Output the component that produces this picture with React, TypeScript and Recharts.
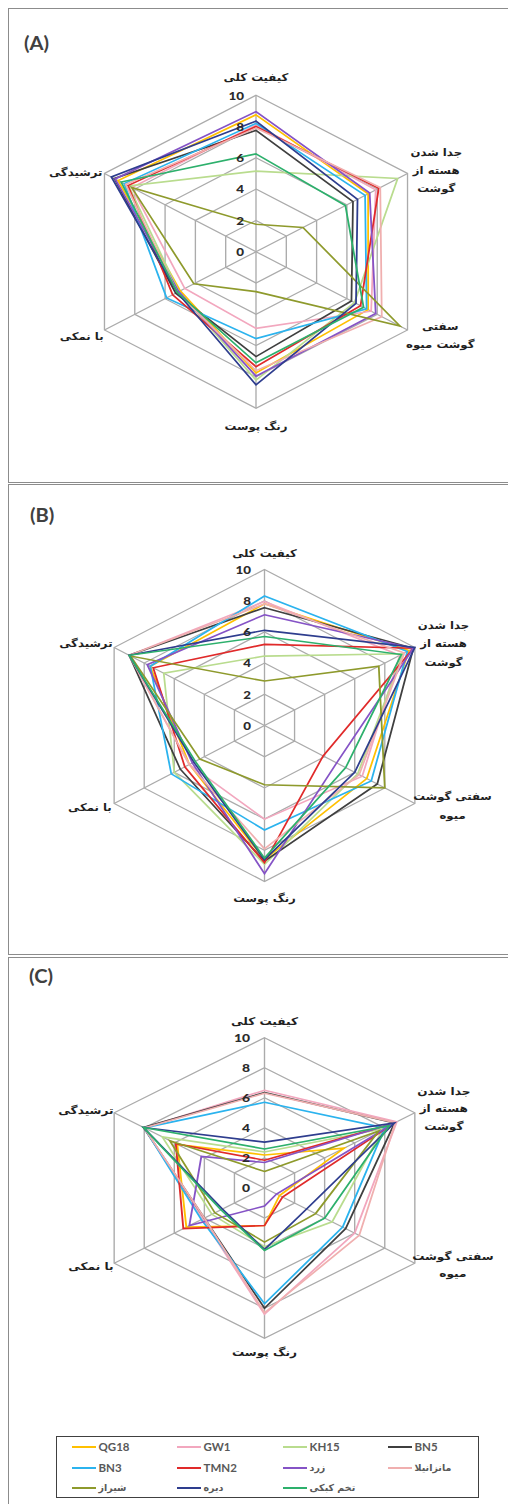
import React from 'react';
import { RadarChart, Radar, PolarGrid, PolarAngleAxis, PolarRadiusAxis } from 'recharts';

// Sensory traits, clockwise from the top spoke
const TRAITS = ['کیفیت  کلی', 'جدا شدن هسته از گوشت', 'سفتی گوشت میوه', 'رنگ پوست', 'با نمکی', 'ترشیدگی'];

// Line breaks used for the spoke captions
const TRAIT_LINES_A = [['کیفیت  کلی'], ['جدا شدن', 'هسته از', 'گوشت'], ['سفتی', 'گوشت میوه'], ['رنگ پوست'], ['با نمکی'], ['ترشیدگی']];
const TRAIT_LINES_BC = [['کیفیت  کلی'], ['جدا شدن', 'هسته از', 'گوشت'], ['سفتی گوشت', 'میوه'], ['رنگ پوست'], ['با نمکی'], ['ترشیدگی']];

const CULTIVARS = ['QG18', 'GW1', 'KH15', 'BN5', 'BN3', 'TMN2', 'زرد', 'مانزانیلا', 'شیراز', 'دیره', 'تخم کبکی'];
const COLORS = ['#FFC000', '#F2A7BE', '#B9DC8E', '#3F3F3F', '#2BB3EE', '#E02A2A', '#8553C6', '#F0AFAF', '#8E9A2C', '#2E3D8E', '#2DB06C'];

const RADIUS_TICKS = [0, 2, 4, 6, 8, 10];

// Scores per cultivar (same order as CULTIVARS), values per trait (same order as TRAITS)
const SCORES_A = [
  [8.75, 7.4, 7.4, 7.75, 5.0, 9.1],
  [8.1, 7.9, 7.6, 4.9, 4.7, 8.2],
  [5.15, 9.35, 6.5, 8.2, 5.1, 8.4],
  [7.75, 6.4, 6.3, 6.7, 5.3, 9.35],
  [8.2, 7.2, 7.3, 5.55, 5.9, 8.7],
  [8.0, 8.1, 6.9, 7.35, 5.5, 8.45],
  [8.95, 7.5, 7.9, 7.95, 5.1, 9.3],
  [7.9, 8.2, 8.3, 7.6, 5.2, 8.6],
  [1.75, 3.1, 9.5, 2.55, 4.1, 8.2],
  [8.35, 6.7, 6.6, 8.5, 5.2, 9.55],
  [6.25, 5.9, 7.1, 7.1, 5.2, 8.9],
];

const SCORES_B = [
  [7.8, 9.6, 6.8, 8.6, 5.0, 7.6],
  [7.95, 9.0, 6.5, 6.0, 5.0, 9.0],
  [4.45, 9.2, 6.2, 8.9, 6.0, 6.7],
  [7.55, 9.9, 7.5, 8.7, 5.6, 9.0],
  [8.3, 9.5, 7.1, 6.7, 6.2, 7.6],
  [5.2, 9.9, 3.9, 8.8, 5.3, 7.4],
  [7.1, 9.9, 4.8, 9.5, 4.8, 7.8],
  [7.8, 9.3, 6.3, 7.9, 5.0, 9.0],
  [2.85, 7.6, 8.0, 3.8, 4.3, 8.9],
  [6.1, 10.0, 6.0, 8.6, 4.7, 9.0],
  [5.7, 9.1, 5.4, 8.5, 4.6, 9.0],
];

const SCORES_C = [
  [2.2, 5.3, 1.0, 2.5, 5.2, 5.8],
  [6.5, 8.8, 6.0, 8.4, 4.1, 8.0],
  [2.4, 7.9, 4.5, 3.9, 3.5, 6.8],
  [6.35, 8.65, 5.4, 8.0, 4.0, 8.05],
  [5.7, 8.0, 5.2, 7.7, 4.2, 8.0],
  [1.85, 8.6, 1.2, 2.5, 5.4, 5.9],
  [1.7, 8.65, 0.8, 1.2, 5.0, 4.2],
  [6.3, 8.7, 6.3, 8.3, 4.0, 8.0],
  [1.1, 7.6, 3.4, 3.6, 3.3, 6.3],
  [3.05, 8.65, 2.8, 4.1, 2.8, 8.05],
  [2.6, 8.3, 4.0, 4.15, 2.9, 8.05],
];

const PERSIAN_FONT = '"DejaVu Sans", sans-serif';
const LATIN_FONT = 'Lato, "Open Sans", sans-serif';
const FRAME = '1.5px solid #8C8C8C';

type Layout = {
  letter: string;
  frameTop: number;
  frameHeight: number;
  frameBottom: boolean;
  letterX: number;
  letterY: number;
  chartTop: number;
  chartHeight: number;
  cx: number;
  cy: number;
  r: number;
  k: number;
  tickGap: number;
  lineGap: number;
  captionOffsets: [number, number][];
  captions: string[][];
  scores: number[][];
};

const buildRows = (scores: number[][]) =>
  TRAITS.map((trait, i) => {
    const row: Record<string, number | string> = { trait };
    CULTIVARS.forEach((_, j) => {
      row['s' + j] = scores[j][i];
    });
    return row;
  });

const makeAngleTick = (lay: Layout) => (props: any) => {
  const { x, y, index } = props;
  const lines = lay.captions[index] || [props.payload?.value];
  const [dx, dy] = lay.captionOffsets[index];
  const x0 = x + dx / lay.k;
  const yc = y + dy - ((lines.length - 1) * lay.lineGap) / 2;
  return (
    <text
      textAnchor="middle"
      fontFamily={PERSIAN_FONT}
      fontWeight="bold"
      fontSize={10.5}
      fill="#1F1F1F"
    >
      {lines.map((l: string, i: number) => (
        <tspan key={i} x={x0} y={yc + i * lay.lineGap} dy="0.35em">
          {l}
        </tspan>
      ))}
    </text>
  );
};

const makeRadiusTick = (lay: Layout) => (props: any) => {
  const { x, y, payload } = props;
  return (
    <text
      x={x - lay.tickGap / lay.k}
      y={y}
      dy="0.36em"
      textAnchor="end"
      fontFamily={LATIN_FONT}
      fontWeight="900"
      fontSize={12}
      fill="#2B2B2B"
    >
      {payload.value}
    </text>
  );
};

function RadarPanel({ lay }: { lay: Layout }) {
  const rows = buildRows(lay.scores);
  return (
    <>
      <div
        style={{
          position: 'absolute',
          left: 8,
          top: lay.frameTop,
          width: 540,
          height: lay.frameHeight,
          borderLeft: FRAME,
          borderTop: FRAME,
          borderBottom: lay.frameBottom ? FRAME : 'none',
          boxSizing: 'border-box',
        }}
      />
      <div
        style={{
          position: 'absolute',
          left: lay.letterX,
          top: lay.letterY,
          fontFamily: LATIN_FONT,
          fontWeight: 'bold',
          fontSize: 18,
          lineHeight: '20px',
          color: '#404040',
          transform: 'scaleX(1.12)',
          transformOrigin: 'left center',
        }}
      >
        {lay.letter}
      </div>
      <div
        style={{
          position: 'absolute',
          left: 0,
          top: lay.chartTop,
          width: 508,
          height: lay.chartHeight,
          transform: `scaleX(${lay.k})`,
          transformOrigin: `${lay.cx}px ${lay.cy}px`,
        }}
      >
        <RadarChart
          width={508}
          height={lay.chartHeight}
          cx={lay.cx}
          cy={lay.cy}
          outerRadius={lay.r}
          data={rows}
          margin={{ top: 0, right: 0, bottom: 0, left: 0 }}
        >
          <PolarGrid gridType="polygon" stroke="#ABABAB" strokeWidth={1.2} />
          <PolarAngleAxis
            dataKey="trait"
            tick={makeAngleTick(lay)}
            tickLine={false}
            axisLine={false}
          />
          <PolarRadiusAxis
            angle={90}
            domain={[0, 10]}
            ticks={RADIUS_TICKS as any}
            tickCount={6}
            tick={makeRadiusTick(lay)}
            axisLine={false}
            tickLine={false}
          />
          {CULTIVARS.map((name, j) => (
            <Radar
              key={name}
              name={name}
              dataKey={'s' + j}
              stroke={COLORS[j]}
              strokeWidth={1.6}
              fill="none"
              fillOpacity={0}
              dot={false}
              isAnimationActive={false}
            />
          ))}
        </RadarChart>
      </div>
    </>
  );
}

const PANEL_A: Layout = {
  letter: '(A)',
  frameTop: 8,
  frameHeight: 475,
  frameBottom: true,
  letterX: 24,
  letterY: 33,
  chartTop: 0,
  chartHeight: 480,
  cx: 256,
  cy: 251.7,
  r: 156.5,
  k: 1.118,
  tickGap: 12,
  lineGap: 18,
  captionOffsets: [[0, -10], [21, 0.5], [25, 1], [0, 10], [-15, 2], [-21, 2.5]],
  captions: TRAIT_LINES_A,
  scores: SCORES_A,
};

const PANEL_B: Layout = {
  letter: '(B)',
  frameTop: 484,
  frameHeight: 471,
  frameBottom: true,
  letterX: 30,
  letterY: 505,
  chartTop: 480,
  chartHeight: 475,
  cx: 264.5,
  cy: 245.5,
  r: 156,
  k: 1.113,
  tickGap: 13.5,
  lineGap: 18.5,
  captionOffsets: [[0, -8.5], [21, 0], [30, -1.5], [0, 8.5], [-16.5, 0], [-20.5, 0]],
  captions: TRAIT_LINES_BC,
  scores: SCORES_B,
};

const PANEL_C: Layout = {
  letter: '(C)',
  frameTop: 957,
  frameHeight: 600,
  frameBottom: false,
  letterX: 29,
  letterY: 966,
  chartTop: 955,
  chartHeight: 440,
  cx: 264.5,
  cy: 233,
  r: 150.3,
  k: 1.155,
  tickGap: 14.5,
  lineGap: 17.5,
  captionOffsets: [[0, -8.7], [21, -0.5], [30, -2.5], [0, 6.5], [-15.2, -1], [-20.2, 1]],
  captions: TRAIT_LINES_BC,
  scores: SCORES_C,
};

const LEGEND_COL_X = [72, 177, 283, 388];
const LEGEND_ROW_Y = [1447, 1468, 1488];

function CultivarLegend() {
  return (
    <div
      style={{
        position: 'absolute',
        left: 56,
        top: 1436,
        width: 423,
        height: 62,
        border: '1.5px solid #404040',
        boxSizing: 'border-box',
      }}
    >
      {CULTIVARS.map((name, j) => {
        const col = j % 4;
        const row = Math.floor(j / 4);
        const latin = /[A-Z]/.test(name);
        return (
          <div
            key={name}
            style={{
              position: 'absolute',
              left: LEGEND_COL_X[col] - 57.5,
              top: LEGEND_ROW_Y[row] - 1437.5 - 8,
              height: 16,
              display: 'flex',
              alignItems: 'center',
              whiteSpace: 'nowrap',
            }}
          >
            <div style={{ width: 24, height: 2, background: COLORS[j], flex: 'none' }} />
            <span
              style={{
                marginLeft: 3,
                fontFamily: latin ? LATIN_FONT : PERSIAN_FONT,
                fontWeight: 'bold',
                fontSize: latin ? 11.5 : 9.5,
                color: '#595959',
              }}
            >
              {name}
            </span>
          </div>
        );
      })}
    </div>
  );
}

export default function App() {
  return (
    <div
      style={{
        position: 'absolute',
        left: 0,
        top: 0,
        width: 508,
        height: 1504,
        overflow: 'hidden',
        background: '#FFFFFF',
      }}
    >
      <RadarPanel lay={PANEL_A} />
      <RadarPanel lay={PANEL_B} />
      <RadarPanel lay={PANEL_C} />
      <CultivarLegend />
    </div>
  );
}
